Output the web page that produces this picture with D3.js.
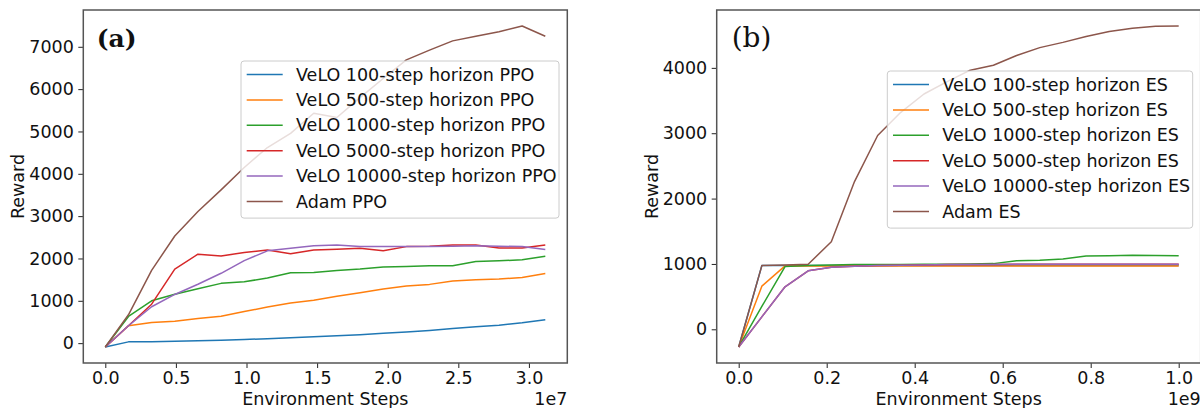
<!DOCTYPE html>
<html>
<head>
<meta charset="utf-8">
<script src="https://cdn.jsdelivr.net/npm/d3@7"></script>
<style>
  body { margin: 0; background: #fff; }
  svg { display: block; }
</style>
</head>
<body>
<div id="chart"></div>
<script>
// ---- data (x in units of the offset: 1e7 for PPO, 1e9 for ES) ----
var ppoSteps = [0, 0.164, 0.328, 0.492, 0.656, 0.820, 0.984, 1.148, 1.312, 1.476,
  1.640, 1.804, 1.968, 2.132, 2.296, 2.460, 2.624, 2.788, 2.952, 3.116];
var ppoVelo100 = [-90, 30, 32, 42, 55, 68, 85, 105, 125, 150, 175, 200, 235, 265, 300, 345, 385, 425, 480, 550];
var ppoVelo500 = [-90, 410, 486, 518, 580, 635, 745, 855, 949, 1012, 1106, 1192, 1278, 1349, 1388, 1467, 1498, 1514, 1553, 1645];
var ppoVelo1000 = [-90, 630, 1000, 1153, 1286, 1412, 1451, 1537, 1663, 1671, 1718, 1749, 1796, 1812, 1827, 1827, 1929, 1945, 1969, 2050];
var ppoVelo5000 = [-90, 410, 920, 1750, 2100, 2060, 2140, 2200, 2110, 2200, 2220, 2240, 2180, 2280, 2290, 2320, 2320, 2250, 2250, 2320];
var ppoVelo10000 = [-90, 410, 860, 1150, 1390, 1650, 1950, 2180, 2240, 2300, 2320, 2280, 2280, 2280, 2280, 2290, 2300, 2290, 2280, 2210];
var ppoAdam = [-90, 670, 1720, 2530, 3110, 3620, 4150, 4620, 4955, 5430, 5330, 5800, 6250, 6690, 6920, 7140, 7250, 7355, 7490, 7250];

var esSteps = [0, 0.0526, 0.1053, 0.1579, 0.2105, 0.2632, 0.3158, 0.3684, 0.4211, 0.4737,
  0.5263, 0.5789, 0.6316, 0.6842, 0.7368, 0.7895, 0.8421, 0.8947, 0.9474, 1.0];
var esVelo100 = [-270, 975, 975, 975, 975, 975, 975, 975, 975, 975, 975, 975, 975, 975, 975, 975, 975, 975, 975, 975];
var esVelo500 = [-270, 660, 970, 970, 970, 970, 970, 970, 970, 970, 970, 970, 970, 970, 970, 970, 970, 970, 968, 968];
var esVelo1000 = [-270, 350, 960, 975, 985, 990, 990, 992, 995, 995, 998, 1005, 1050, 1055, 1075, 1120, 1125, 1135, 1130, 1125];
var esVelo5000 = [-270, 190, 650, 895, 950, 965, 975, 980, 985, 990, 990, 990, 995, 995, 995, 995, 995, 995, 995, 995];
var esVelo10000 = [-270, 190, 650, 895, 950, 965, 975, 980, 985, 990, 990, 990, 995, 995, 995, 995, 995, 995, 995, 995];
var esAdam = [-270, 975, 985, 995, 1340, 2260, 2965, 3320, 3600, 3790, 3965, 4040, 4190, 4310, 4390, 4480, 4555, 4605, 4635, 4640];

var ppoLabels = ["VeLO 100-step horizon PPO", "VeLO 500-step horizon PPO", "VeLO 1000-step horizon PPO",
  "VeLO 5000-step horizon PPO", "VeLO 10000-step horizon PPO", "Adam PPO"];
var esLabels = ["VeLO 100-step horizon ES", "VeLO 500-step horizon ES", "VeLO 1000-step horizon ES",
  "VeLO 5000-step horizon ES", "VeLO 10000-step horizon ES", "Adam ES"];

var ppoXTicks = [0, 0.5, 1.0, 1.5, 2.0, 2.5, 3.0];
var ppoYTicks = [0, 1000, 2000, 3000, 4000, 5000, 6000, 7000];
var esXTicks = [0, 0.2, 0.4, 0.6, 0.8, 1.0];
var esYTicks = [0, 1000, 2000, 3000, 4000];

var colors = ["#1f77b4", "#ff7f0e", "#2ca02c", "#d62728", "#9467bd", "#8c564b"];

// ---- layout ----
var svg = d3.select("#chart").append("svg").attr("width", 1200).attr("height", 408);
var axW = 484, axH = 353, axTop = 10;
var font = "DejaVu Sans, sans-serif";
var fs = "17.5px";

// pad a domain by 5% on each side, like matplotlib
function padded(ext) {
  var m = (ext[1] - ext[0]) * 0.05;
  return [ext[0] - m, ext[1] + m];
}

function drawPanel(p) {
  var g = svg.append("g").attr("transform", "translate(" + p.left + "," + axTop + ")");

  var allY = d3.merge(p.series);
  var x = d3.scaleLinear().domain(padded(d3.extent(p.steps))).range([0, axW]);
  var y = d3.scaleLinear().domain(padded(d3.extent(allY))).range([axH, 0]);

  // x axis
  var xa = g.append("g")
    .attr("transform", "translate(0," + axH + ")")
    .call(d3.axisBottom(x).tickValues(p.xTicks).tickFormat(d3.format(".1f")).tickSize(5).tickPadding(3.5));
  // y axis
  var ya = g.append("g")
    .call(d3.axisLeft(y).tickValues(p.yTicks).tickFormat(d3.format("d")).tickSize(5).tickPadding(4.5));
  [xa, ya].forEach(function (a) {
    a.select(".domain").remove();
    a.selectAll(".tick line").attr("stroke", "#222").attr("stroke-width", 1);
    a.selectAll(".tick text").attr("fill", "#111").style("font-size", fs).style("font-family", font);
  });

  // lines
  var line = d3.line()
    .x(function (d, i) { return x(p.steps[i]); })
    .y(function (d) { return y(d); });
  p.series.forEach(function (s, k) {
    g.append("path")
      .datum(s)
      .attr("fill", "none")
      .attr("stroke", colors[k])
      .attr("stroke-width", 1.5)
      .attr("stroke-linejoin", "round")
      .attr("d", line);
  });

  // frame
  g.append("rect")
    .attr("width", axW).attr("height", axH)
    .attr("fill", "none").attr("stroke", "#555").attr("stroke-width", 1.5);

  // axis labels
  g.append("text")
    .attr("x", axW / 2).attr("y", 395)
    .attr("text-anchor", "middle")
    .style("font-family", font).style("font-size", fs).attr("fill", "#111")
    .text("Environment Steps");
  g.append("text")
    .attr("x", axW).attr("y", 394.5)
    .attr("text-anchor", "end")
    .style("font-family", font).style("font-size", fs).attr("fill", "#111")
    .text(p.offset);
  g.append("text")
    .attr("transform", "translate(" + p.yLabelX + "," + axH / 2 + ") rotate(-90)")
    .attr("text-anchor", "middle")
    .style("font-family", font).style("font-size", fs).attr("fill", "#111")
    .text("Reward");

  // panel tag
  g.append("text")
    .attr("x", p.tagX).attr("y", 37)
    .style("font-family", "DejaVu Serif, serif").style("font-size", p.tagSize)
    .style("font-weight", p.tagWeight).attr("fill", "#111")
    .text(p.tag);

  // legend
  var lg = g.append("g").attr("transform", "translate(" + p.legX + "," + p.legY + ")");
  var rowH = 25.4, legW = p.legW, legH = 13.5 + rowH * 5 + 16.6;
  lg.append("rect")
    .attr("width", legW).attr("height", legH).attr("rx", 3)
    .attr("fill", "#fff").attr("fill-opacity", 0.8)
    .attr("stroke", "#ccc").attr("stroke-width", 1);
  p.labels.forEach(function (lab, k) {
    var cy = 13.5 + k * rowH;
    lg.append("line")
      .attr("x1", 5.7).attr("x2", 41.7).attr("y1", cy).attr("y2", cy)
      .attr("stroke", colors[k]).attr("stroke-width", 1.5);
    lg.append("text")
      .attr("x", 55).attr("y", cy).attr("dy", "0.35em")
      .style("font-family", font).style("font-size", fs).attr("fill", "#111")
      .text(lab);
  });
}

drawPanel({
  left: 83.3,
  steps: ppoSteps,
  series: [ppoVelo100, ppoVelo500, ppoVelo1000, ppoVelo5000, ppoVelo10000, ppoAdam],
  labels: ppoLabels,
  xTicks: ppoXTicks, yTicks: ppoYTicks,
  offset: "1e7",
  yLabelX: -59.3,
  tag: "(a)", tagX: 13.4, tagWeight: "bold", tagSize: "25px",
  legX: 157.7, legY: 51, legW: 318
});

drawPanel({
  left: 716.7,
  steps: esSteps,
  series: [esVelo100, esVelo500, esVelo1000, esVelo5000, esVelo10000, esAdam],
  labels: esLabels,
  xTicks: esXTicks, yTicks: esYTicks,
  offset: "1e9",
  yLabelX: -58.7,
  tag: "(b)", tagX: 15, tagWeight: "normal", tagSize: "28px",
  legX: 170.6, legY: 61, legW: 305.4
});
</script>
</body>
</html>
